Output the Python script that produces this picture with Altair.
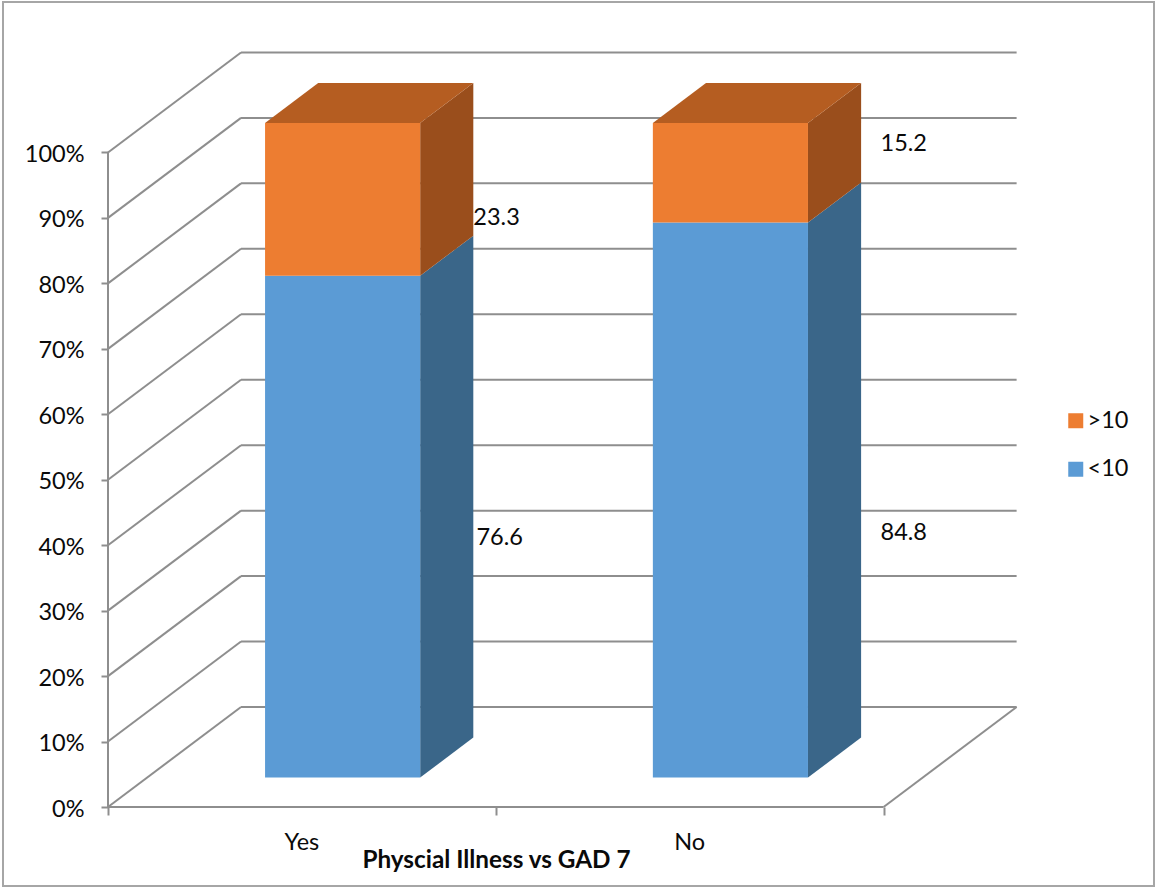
import altair as alt
import pandas as pd

# Chart values
categories = ["Yes", "No"]
series = ["<10", ">10"]
below_ten = [76.6, 84.8]
above_ten = [23.3, 15.2]
percent_ticks = [0, 10, 20, 30, 40, 50, 60, 70, 80, 90, 100]
category_edges = [0, 1, 2]

# Where each value label sits, in chart units
label_x = {"<10": [1.01, 2.052], ">10": [1.002, 2.052]}
label_y = {"<10": [41.1, 41.85], ">10": [89.95, 101.3]}
category_label_x = [0.5, 1.5]
category_label_y = -5.55

# Oblique projection, in chart units
WALL_DX, WALL_DY = 0.343, 15.28
BAR_DX, BAR_DY = 0.105, 4.5
DEPTH_DX, DEPTH_DY = 0.137, 6.1
BAR_WIDTH = 0.4

FRONT = {"<10": "#5B9BD5", ">10": "#ED7D31"}
SIDE = {"<10": "#3A6689", ">10": "#9A4E1C"}
TOP = "#B55D21"
GRID = "#8E8E8E"
FRAME = "#A6A6A6"
FONT = "Lato"
TEXT = "#0A0A0A"
TEXT_SIZE = 23.5
LINE = 2

x_scale = alt.Scale(domain=[0, 2.344], nice=False, zero=False)
y_scale = alt.Scale(domain=[0, 115.35], nice=False, zero=False)

# Both position channels share one definition, so the layers merge into one pair of axes
X = alt.X(
    "x:Q",
    scale=x_scale,
    axis=alt.Axis(
        values=category_edges,
        labels=False,
        domain=False,
        grid=False,
        tickColor=GRID,
        tickWidth=LINE,
        tickSize=8,
        title="Physcial Illness vs GAD 7",
        titleFont=FONT,
        titleFontSize=24.3,
        titleFontWeight="bold",
        titleColor=TEXT,
        titleX=388,
        titleY=41,
        titleAnchor="middle",
    ),
)
Y = alt.Y(
    "y:Q",
    scale=y_scale,
    axis=alt.Axis(
        values=percent_ticks,
        labelExpr="datum.value + '%'",
        domain=False,
        grid=False,
        title=None,
        tickColor=GRID,
        tickWidth=LINE,
        tickSize=7,
        labelPadding=17,
        labelOffset=2,
        labelFont=FONT,
        labelFontSize=TEXT_SIZE,
        labelColor=TEXT,
    ),
)

# Walls and floor of the box
segments = []
for v in percent_ticks:
    segments.append(dict(x=0, x2=WALL_DX, y=v, y2=v + WALL_DY))
    segments.append(dict(x=WALL_DX, x2=2 + WALL_DX, y=v + WALL_DY, y2=v + WALL_DY))
segments.append(dict(x=0, x2=0, y=0, y2=100))
segments.append(dict(x=0, x2=2, y=0, y2=0))
segments.append(dict(x=2, x2=2 + WALL_DX, y=0, y2=WALL_DY))

walls = alt.Chart(pd.DataFrame(segments)).mark_rule(color=GRID, strokeWidth=LINE).encode(
    x=X, x2="x2:Q", y=Y, y2="y2:Q"
)

# Faces of the bars; each column is stacked to 100 percent
front_rows, side_rows, top_rows = [], [], []
for i, cat in enumerate(categories):
    left = i + 0.5 - BAR_WIDTH / 2 + BAR_DX
    right = left + BAR_WIDTH
    base = BAR_DY
    total = below_ten[i] + above_ten[i]
    for name, val in zip(series, (below_ten[i], above_ten[i])):
        end = base + 100 * val / total
        front_rows.append(dict(series=name, x=left, x2=right, y=base, y2=end))
        for dx, dy in ((0, 0), (DEPTH_DX, DEPTH_DY)):
            side_rows.append(
                dict(face=f"{cat}{name}", shade=SIDE[name], x=right + dx, y=base + dy, y2=end + dy)
            )
        base = end
    for dx, dy in ((0, 0), (DEPTH_DX, DEPTH_DY)):
        top_rows.append(dict(face=cat, x=left + dx, x2=right + dx, y=base + dy))

sides = alt.Chart(pd.DataFrame(side_rows)).mark_area(interpolate="linear").encode(
    x=X,
    y=Y,
    y2="y2:Q",
    detail="face:N",
    fill=alt.Fill("shade:N", scale=None),
)
tops = alt.Chart(pd.DataFrame(top_rows)).mark_area(orient="horizontal", color=TOP).encode(
    y=Y, x=X, x2="x2:Q", detail="face:N"
)
fronts = alt.Chart(pd.DataFrame(front_rows)).mark_rect().encode(
    x=X,
    x2="x2:Q",
    y=Y,
    y2="y2:Q",
    color=alt.Color(
        "series:N",
        scale=alt.Scale(domain=[">10", "<10"], range=[FRONT[">10"], FRONT["<10"]]),
        legend=alt.Legend(
            title=None,
            orient="none",
            legendX=956,
            legendY=357,
            symbolType="square",
            symbolSize=225,
            symbolStrokeWidth=0,
            rowPadding=23.5,
            labelFont=FONT,
            labelFontSize=TEXT_SIZE,
            labelColor=TEXT,
            labelOffset=0,
        ),
    ),
)

# Value labels beside the bars, and category labels under the floor
value_rows = []
for name, vals in zip(series, (below_ten, above_ten)):
    for i, val in enumerate(vals):
        value_rows.append(dict(x=label_x[name][i], y=label_y[name][i], label=f"{val:.1f}"))
value_text = alt.Chart(pd.DataFrame(value_rows)).mark_text(
    font=FONT, fontSize=TEXT_SIZE, color=TEXT, align="center", baseline="middle"
).encode(x=X, y=Y, text="label:N")

category_text = alt.Chart(
    pd.DataFrame({"x": category_label_x, "y": [category_label_y] * 2, "label": categories})
).mark_text(font=FONT, fontSize=TEXT_SIZE, color=TEXT, align="center", baseline="middle").encode(
    x=X, y=Y, text="label:N"
)

# Outer frame of the picture, unfilled so the axes behind it stay visible
frame = alt.Chart(pd.DataFrame({"a": [0]})).mark_rect(
    filled=False, stroke=FRAME, strokeWidth=2
).encode(
    x=alt.value(-105),
    x2=alt.value(1046),
    y=alt.value(-50),
    y2=alt.value(834),
)

chart = (
    alt.layer(frame, walls, sides, tops, fronts, value_text, category_text)
    .resolve_scale(fill="independent")
    .properties(
        width=909,
        height=755,
        background="white",
        padding={"left": 108, "top": 52, "right": 139, "bottom": 82},
        autosize=alt.AutoSizeParams(type="none"),
    )
    .configure_view(stroke=None)
)

chart.save("out.html", embed_options={"renderer": "svg", "actions": False})
